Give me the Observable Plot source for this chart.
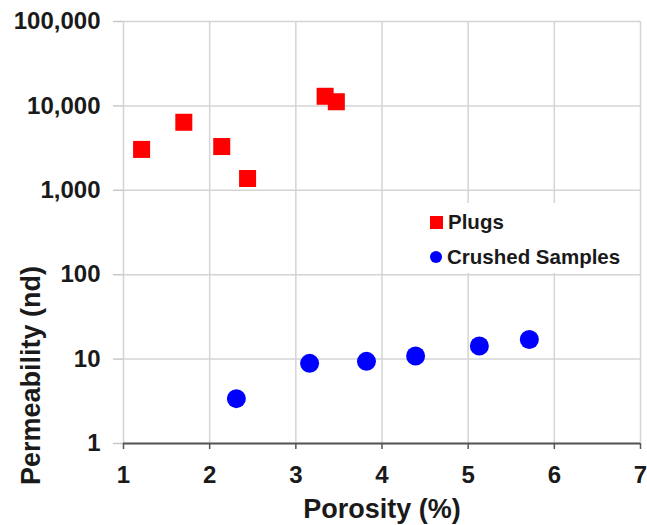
<!DOCTYPE html>
<html><head><meta charset="utf-8">
<script src="https://cdn.jsdelivr.net/npm/d3@7"></script>
<script src="https://cdn.jsdelivr.net/npm/@observablehq/plot@0.6"></script>
<style>
body{margin:0;background:#fff;}
#wrap{position:relative;width:647px;height:525px;}
#legend{position:absolute;left:420px;top:203px;width:215px;height:70px;background:#fff;font:bold 20.5px "Liberation Sans",Arial,sans-serif;color:#1a1a1a;}
.row{position:absolute;left:10px;height:24px;display:flex;align-items:center;white-space:nowrap;}
.sw{display:inline-block;margin-right:5px;}
</style></head><body><div id="wrap"></div>
<script>
const plugPorosity = [1.21, 1.70, 2.14, 2.44, 3.34, 3.47];
const plugPerm = [3050, 6400, 3300, 1380, 13000, 11200];
const crushedPorosity = [2.31, 3.16, 3.82, 4.39, 5.13, 5.71];
const crushedPerm = [3.4, 8.9, 9.4, 10.9, 14.3, 17.1];
const xTicks = [1, 2, 3, 4, 5, 6, 7];
const yTicks = [1, 10, 100, 1000, 10000, 100000];
const seriesNames = ["Plugs", "Crushed Samples"];
const seriesColors = ["#ff0000", "#0000ff"];
const seriesSymbols = ["square", "circle"];
const xLabel = "Porosity (%)";
const yLabel = "Permeability (nd)";

const plugs = plugPorosity.map((x, i) => ({x, y: plugPerm[i]}));
const crushed = crushedPorosity.map((x, i) => ({x, y: crushedPerm[i]}));
const font = '"Liberation Sans", Arial, sans-serif';

const chart = Plot.plot({
  width: 647, height: 525,
  marginLeft: 123, marginRight: 7, marginTop: 21, marginBottom: 82,
  style: {fontFamily: font, fontWeight: "bold", color: "#1a1a1a", background: "#fff"},
  x: {domain: [1, 7]},
  y: {type: "log", domain: [1, 100000]},
  marks: [
    Plot.ruleX(xTicks, {stroke: "#d4d4d4", strokeWidth: 1.5}),
    Plot.ruleY(yTicks, {stroke: "#d4d4d4", strokeWidth: 1.5}),
    Plot.axisY(yTicks, {tickSize: 10, tickPadding: 13, tickFormat: d3.format(","), label: null, fontSize: 24, stroke: "#c8c8c8", strokeWidth: 1.5}),
    Plot.ruleY([1], {stroke: "#555", strokeWidth: 2}),
    Plot.axisX(xTicks, {anchor: "bottom", tickSize: 6, tickPadding: 16, label: null, fontSize: 24, stroke: "#555", strokeWidth: 1.5}),
    Plot.text([xLabel], {frameAnchor: "bottom", lineAnchor: "middle", textAnchor: "middle", dy: 66, fontSize: 27, fontWeight: "bold"}),
    Plot.text([yLabel], {frameAnchor: "left", lineAnchor: "middle", textAnchor: "middle", dx: -92, dy: 143, rotate: -90, fontSize: 27, fontWeight: "bold"}),
    Plot.dot(plugs, {x: "x", y: "y", symbol: seriesSymbols[0], r: 9.6, fill: seriesColors[0], stroke: "none"}),
    Plot.dot(crushed, {x: "x", y: "y", symbol: seriesSymbols[1], r: 9.5, fill: seriesColors[1], stroke: "none"})
  ]
});
const wrap = document.getElementById("wrap");
wrap.appendChild(chart);

const legend = document.createElement("div");
legend.id = "legend";
const rowTops = [7, 42];
seriesNames.forEach((name, i) => {
  const row = document.createElement("div");
  row.className = "row";
  row.style.top = rowTops[i] + "px";
  const sw = document.createElement("span");
  sw.className = "sw";
  const s = i === 0 ? 13 : 12;
  sw.style.width = s + "px"; sw.style.height = s + "px";
  sw.style.background = seriesColors[i];
  if (seriesSymbols[i] === "circle") sw.style.borderRadius = "50%";
  row.appendChild(sw);
  row.appendChild(document.createTextNode(name));
  legend.appendChild(row);
});
wrap.appendChild(legend);
</script>
</body></html>
